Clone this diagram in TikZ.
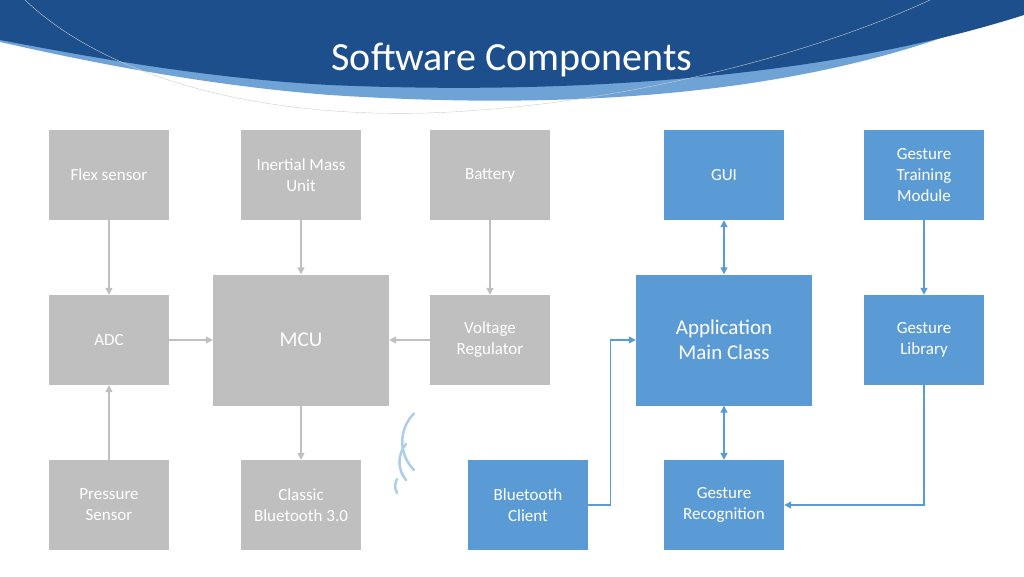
\documentclass[tikz,border=0pt]{standalone}
\usepackage{fontspec}
\setmainfont{Carlito}
\usetikzlibrary{arrows.meta, positioning}
\definecolor{boxgray}{HTML}{BFBFBF}
\definecolor{boxblue}{HTML}{5B9BD5}
\definecolor{linegray}{HTML}{BFBFBF}
\definecolor{lineblue}{HTML}{5B9BD5}
\definecolor{headdark}{HTML}{1D4F8C}
\definecolor{headlight}{HTML}{6FA3D6}

\begin{document}
\begin{tikzpicture}[x=1pt, y=-1pt]
% Define styles
\tikzset{
  hw/.style={rectangle, minimum width=120pt, minimum height=90pt, align=center, fill=boxgray, text=white, font=\fontsize{17}{21}\selectfont},
  sw/.style={hw, fill=boxblue},
  big/.style={minimum width=176pt, minimum height=131pt, font=\fontsize{21}{25}\selectfont},
  garrow/.style={draw=linegray, line width=1.3pt, -{Triangle[length=7pt,width=7pt]}},
  barrow/.style={draw=lineblue, line width=1.3pt, -{Triangle[length=7pt,width=7pt]}},
  bdouble/.style={barrow, {Triangle[length=7pt,width=7pt]}-{Triangle[length=7pt,width=7pt]}},
  wave/.style={draw=lineblue!50, line width=2.5pt, line cap=round}
}
\useasboundingbox (0,0) rectangle (1024,576);

% Header
\fill[headlight] (0,0) -- (1024,0) -- (1024,5) .. controls (820,100) and (560,110) .. (330,95)
  .. controls (200,85) and (80,60) .. (0,42) -- cycle;
\fill[headdark] (0,0) -- (1024,0) -- (1024,15) .. controls (820,80) and (560,95) .. (330,85)
  .. controls (200,78) and (80,55) .. (0,40) -- cycle;
\draw[gray!40, line width=0.4pt] (25,0) .. controls (120,90) and (300,125) .. (480,110)
  .. controls (620,100) and (800,60) .. (930,0);
\node[text=white, font=\fontsize{40}{48}\selectfont] (title) at (512,60) {Software Components};

% Hardware nodes
\node[hw] (flex) at (109,175) {Flex sensor};
\node[hw] (imu) at (301,175) {Inertial Mass\\Unit};
\node[hw] (battery) at (490,175) {Battery};
\node[hw] (adc) at (109,340) {ADC};
\node[hw, big] (mcu) at (301,340) {MCU};
\node[hw] (regulator) at (490,340) {Voltage\\Regulator};
\node[hw] (pressure) at (109,505) {Pressure\\Sensor};
\node[hw] (classic) at (301,505) {Classic\\Bluetooth 3.0};

% Software nodes
\node[sw] (gui) at (724,175) {GUI};
\node[sw] (training) at (924,175) {Gesture\\Training\\Module};
\node[sw, big] (app) at (724,340) {Application\\Main Class};
\node[sw] (library) at (924,340) {Gesture\\Library};
\node[sw] (client) at (528,505) {Bluetooth\\Client};
\node[sw] (recognition) at (724,505) {Gesture\\Recognition};

% Wireless symbol
\draw[wave] (397,493) arc[start angle=150, end angle=210, radius=14];
\draw[wave] (406,480) arc[start angle=140, end angle=220, radius=28];
\draw[wave] (414,470) arc[start angle=135, end angle=225, radius=40];

% Hardware arrows
\draw[garrow] (flex) -- (adc);
\draw[garrow] (pressure) -- (adc);
\draw[garrow] (imu) -- (mcu);
\draw[garrow] (battery) -- (regulator);
\draw[garrow] (adc) -- (mcu);
\draw[garrow] (regulator) -- (mcu);
\draw[garrow] (mcu) -- (classic);

% Software arrows
\draw[bdouble] (gui) -- (app);
\draw[bdouble] (app) -- (recognition);
\draw[barrow] (training) -- (library);
\draw[barrow] (client.east) -- ++(22,0) |- (app.west);
\draw[barrow] (library.south) |- (recognition.east);
\end{tikzpicture}
\end{document}
